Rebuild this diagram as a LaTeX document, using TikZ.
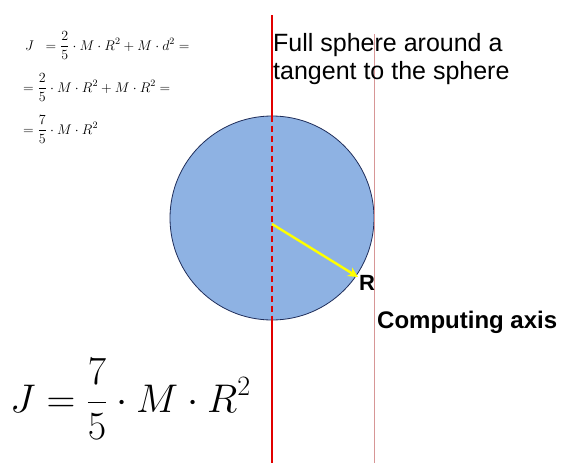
\RequirePackage{fix-cm}
\documentclass[tikz,border=0pt]{standalone}
\usepackage{fontspec}
\setmainfont{Liberation Sans}
\usetikzlibrary{arrows.meta}
\definecolor{sphfill}{RGB}{142,178,227}
\definecolor{sphdraw}{RGB}{31,45,90}
\definecolor{axisred}{RGB}{225,0,0}
\definecolor{axispink}{RGB}{215,150,150}
\definecolor{arrowyellow}{RGB}{255,255,0}
\begin{document}
\begin{tikzpicture}[x=1pt,y=-1pt,
  lbl/.style={inner sep=0pt,anchor=base west,text=black},
  smallf/.style={lbl,font=\fontsize{14}{16}\selectfont},
  redaxis/.style={draw=axisred,line width=1.8pt},
  pinkaxis/.style={draw=axispink,line width=0.8pt}]
\useasboundingbox (0,0) rectangle (563,463);
\node[circle,fill=sphfill,draw=sphdraw,line width=0.8pt,minimum size=204pt,inner sep=0pt] (sphere) at (272,218) {};
\coordinate (rtop) at (272,15);
\coordinate (rbot) at (272,463);
\coordinate (ptop) at (374,34);
\coordinate (pbot) at (374,463);
\draw[pinkaxis] (ptop) -- (pbot);
\draw[redaxis] (rtop) -- (sphere.north);
\draw[redaxis,dash pattern=on 6pt off 4pt] (sphere.north) -- (sphere.south);
\draw[redaxis] (sphere.south) -- (rbot);
\coordinate (rstart) at (272,224);
\coordinate (rend) at (358,277);
\draw[arrowyellow,line width=2.4pt,-{Stealth[length=10pt,width=10pt]}] (rstart) -- (rend);
\node[lbl,font=\fontsize{22}{24}\selectfont\bfseries] (rlab) at (359,290) {R};
\node[lbl,font=\fontsize{24}{26}\selectfont\bfseries] (cax) at (377,328) {Computing axis};
\node[lbl,font=\fontsize{25}{27}\selectfont] (t1) at (273,52) {Full sphere around a};
\node[lbl,font=\fontsize{25}{27}\selectfont] (t2) at (273,79) {tangent to the sphere};
\node[smallf] (f1) at (25,50) {$\displaystyle J\;\;=\frac{2}{5}\cdot M\cdot R^2+M\cdot d^2=$};
\node[smallf] (f2) at (23,92) {$\displaystyle =\frac{2}{5}\cdot M\cdot R^2+M\cdot R^2=$};
\node[smallf] (f3) at (23,134) {$\displaystyle =\frac{7}{5}\cdot M\cdot R^2$};
\node[lbl,font=\fontsize{40}{46}\selectfont] (big) at (10,412) {$\displaystyle J=\frac{7}{5}\cdot M\cdot R^2$};
\end{tikzpicture}
\end{document}
